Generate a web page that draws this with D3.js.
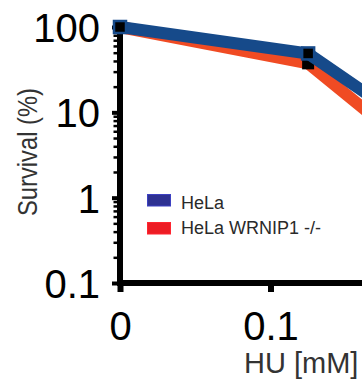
<html>
<head>
<meta charset="utf-8">
<script src="https://d3js.org/d3.v7.min.js"></script>
<style>
body { margin: 0; background: #fff; }
svg { display: block; }
text { font-family: "Liberation Sans", Arial, sans-serif; }
</style>
</head>
<body>
<svg width="362" height="381"></svg>
<script>

// HU dose (mM) and survival (%)
var doses = [0, 0.125, 0.25];
var helaVals = [100, 49, 1.5];
var wrnipVals = [100, 37.5, 0.6];

var seriesNames = ["HeLa", "HeLa WRNIP1 -/-"];
var lineColors = ["#164a8a", "#f04b23"];
var legendColors = ["#2e3192", "#ed1c24"];

var yMajor = [0.1, 1, 10, 100];
var yLabels = ["0.1", "1", "10", "100"];
var xMajor = [0, 0.1];
var xLabels = ["0", "0.1"];

var svg = d3.select("svg");

var x = d3.scaleLinear()
    .domain([0, 0.3])
    .range([120, 571.5]);

var y = d3.scaleLog()
    .domain([0.1, 100])
    .range([283, 27]);

// minor log ticks
var yMinor = [];
[0.1, 1, 10].forEach(function(d) {
    for (var k = 2; k <= 9; k++) yMinor.push(d * k);
});

var line = d3.line()
    .x(d => x(d[0]))
    .y(d => y(d[1]));

var series = [
    {name: seriesNames[1], color: lineColors[1], vals: wrnipVals},
    {name: seriesNames[0], color: lineColors[0], vals: helaVals}
];

var yAxisMinor = svg.append("g")
    .attr("transform", "translate(117,0)")
    .call(d3.axisLeft(y).tickValues(yMinor).tickSize(3.5).tickFormat(""));
yAxisMinor.select(".domain").remove();
yAxisMinor.selectAll(".tick line").attr("stroke", "#000").attr("stroke-width", 2.5);

var yAxis = svg.append("g")
    .attr("transform", "translate(117,0)")
    .call(d3.axisLeft(y).tickValues(yMajor).tickSize(5).tickPadding(12)
        .tickFormat((d, i) => yLabels[i]));
yAxis.select(".domain").remove();
yAxis.selectAll(".tick line").attr("stroke", "#000").attr("stroke-width", 4);
yAxis.selectAll(".tick text")
    .attr("fill", "#000")
    .style("font-size", "40px")
    .attr("dy", "0.36em");

var xAxis = svg.append("g")
    .attr("transform", "translate(0,286)")
    .call(d3.axisBottom(x).tickValues(xMajor).tickSize(6).tickPadding(20)
        .tickFormat((d, i) => xLabels[i]));
xAxis.select(".domain").remove();
xAxis.selectAll(".tick line").attr("stroke", "#000").attr("stroke-width", 6);
xAxis.selectAll(".tick text")
    .attr("fill", "#000")
    .style("font-size", "40px");

// axis lines
svg.append("line")
    .attr("x1", 120).attr("x2", 120)
    .attr("y1", y(100)).attr("y2", y(0.1) + 3)
    .attr("stroke", "#000").attr("stroke-width", 6);
svg.append("line")
    .attr("x1", 117).attr("x2", x(0.3))
    .attr("y1", y(0.1)).attr("y2", y(0.1))
    .attr("stroke", "#000").attr("stroke-width", 6);

// series lines + black square markers
series.forEach(function(s, si) {
    var pts = doses.map((d, i) => [d, s.vals[i]]);
    svg.append("path")
        .datum(pts)
        .attr("fill", "none")
        .attr("stroke", s.color)
        .attr("stroke-width", 12)
        .attr("stroke-linejoin", "miter")
        .attr("d", line);
    svg.selectAll(".m" + si)
        .data(pts)
        .enter().append("rect")
        .attr("class", "m" + si)
        .attr("x", d => x(d[0]) - 6)
        .attr("y", d => y(d[1]) - 6)
        .attr("width", 12)
        .attr("height", 12)
        .attr("fill", "#000")
        .attr("stroke", si == 1 ? s.color : "none")
        .attr("stroke-width", 2.5);
});

// axis titles
svg.append("text")
    .attr("transform", "translate(37,152) rotate(-90) scale(0.88,1)")
    .attr("text-anchor", "middle")
    .attr("fill", "#333")
    .style("font-size", "27px")
    .text("Survival (%)");

svg.append("text")
    .attr("x", 244)
    .attr("y", 373)
    .attr("fill", "#333")
    .style("font-size", "29px")
    .text("HU [mM]");

// legend
var legend = svg.append("g");
seriesNames.forEach(function(n, i) {
    legend.append("rect")
        .attr("x", 147.5)
        .attr("y", 194.5 + i * 28)
        .attr("width", 23)
        .attr("height", 11.5)
        .attr("fill", legendColors[i])
        .attr("stroke", d3.color(legendColors[i]).brighter(0.8))
        .attr("stroke-width", 1);
    legend.append("text")
        .attr("x", 181)
        .attr("y", 209 + i * 24.5)
        .attr("fill", "#2a2a2a")
        .style("font-size", "18px")
        .text(n);
});

</script>
</body>
</html>
